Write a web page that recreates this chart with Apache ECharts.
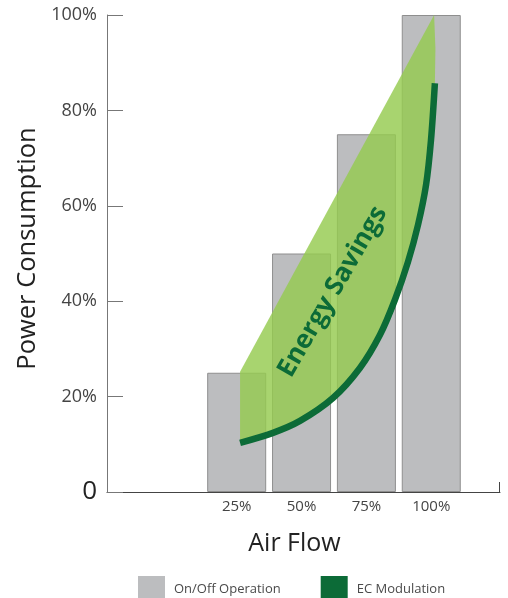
<!DOCTYPE html>
<html>
<head>
<meta charset="utf-8">
<script src="https://cdn.jsdelivr.net/npm/echarts@6/dist/echarts.min.js"></script>
<style>
  html, body { margin: 0; padding: 0; background: #ffffff; }
  #chart { width: 508px; height: 598px; }
</style>
</head>
<body>
<div id="chart"></div>
<script>
// Air flow steps (%) and the power drawn by on/off operation at each step
const flowSteps = [25, 50, 75, 100];
const onOffPower = [25, 50, 75, 100];

// EC fan modulation curve: air flow (%) vs power consumption (%)
const ecFlow  = [26.3, 39.0, 49.4, 62.1, 72.5, 80.2, 86.0, 91.0, 94.9, 98.0, 99.9, 101.4];
const ecPower = [10.3, 12.4, 14.9, 19.7, 26.0, 32.9, 40.3, 48.2, 56.0, 64.4, 73.8, 85.7];

// Savings band: straight upper edge, lower edge follows the EC curve
const savingsTop  = [[26.3, 25.2], [101.1, 100]];
const savingsTail = [[101.6, 93]];
const savingsLabel = { text: 'Energy Savings', at: [62.0, 42.0] };

const yTicks = [0, 20, 40, 60, 80, 100];
const X_MIN = -25, X_MAX = 126.5;

const FONT = '"Open Sans", "Noto Sans", sans-serif';
const chart = echarts.init(document.getElementById('chart'), null, { renderer: 'canvas' });

chart.setOption({
  animation: false,
  backgroundColor: '#ffffff',
  textStyle: { fontFamily: FONT },
  grid: { left: 107, right: 8, top: 15, bottom: 106, containLabel: false },
  legend: {
    data: [{ name: 'On/Off Operation' }, { name: 'EC Modulation' }],
    icon: 'rect',
    itemWidth: 27,
    itemHeight: 27,
    itemGap: 40,
    left: 138,
    top: 576,
    padding: 0,
    itemStyle: { borderWidth: 0 },
    textStyle: { fontSize: 13, color: '#4a4a4a', fontFamily: FONT, padding: [0, 0, 0, 4] }
  },
  xAxis: {
    type: 'value',
    min: X_MIN,
    max: X_MAX,
    interval: 25,
    name: 'Air Flow',
    nameLocation: 'middle',
    nameGap: 39,
    nameTextStyle: { fontSize: 25, color: '#222', fontFamily: FONT, padding: [0, 18, 0, 0] },
    axisLine: { show: true, onZero: false, lineStyle: { color: '#444', width: 1 } },
    axisTick: { show: false },
    splitLine: { show: false },
    axisLabel: {
      margin: 7,
      fontSize: 15,
      color: '#444',
      fontFamily: FONT,
      formatter: v => (flowSteps.indexOf(v) >= 0 ? v + '%' : '')
    }
  },
  yAxis: {
    type: 'value',
    min: 0,
    max: 100,
    interval: 20,
    name: 'Power Consumption',
    nameLocation: 'middle',
    nameRotate: 90,
    nameGap: 63,
    nameTextStyle: { fontSize: 25.5, color: '#222', fontFamily: FONT, padding: [0, 0, 0, 10] },
    axisLine: { show: true, onZero: false, lineStyle: { color: '#777', width: 1 } },
    axisTick: { show: true, inside: true, length: 16, lineStyle: { color: '#777', width: 1 } },
    splitLine: { show: false },
    axisLabel: {
      margin: 10,
      formatter: v => (yTicks.indexOf(v) < 0 ? '' : (v === 0 ? '{z|0}' : '{p|' + v + '%}')),
      rich: {
        z: { fontSize: 26, color: '#222', fontFamily: FONT },
        p: { fontSize: 18, color: '#444', fontFamily: FONT }
      }
    }
  },
  series: [
    {
      name: 'On/Off Operation',
      type: 'bar',
      barWidth: 59,
      data: flowSteps.map((f, i) => [f, onOffPower[i]]),
      itemStyle: { color: '#bcbdbf', borderColor: '#8e8e8e', borderWidth: 1 },
      z: 1
    },
    {
      name: 'Savings',
      type: 'custom',
      clip: false,
      z: 3,
      data: [savingsLabel.at],
      renderItem: function (params, api) {
        if (params.dataIndex !== 0) return null;
        const pts = [];
        savingsTop.forEach(p => pts.push(api.coord(p)));
        savingsTail.forEach(p => pts.push(api.coord(p)));
        for (let i = ecFlow.length - 1; i >= 0; i--) pts.push(api.coord([ecFlow[i], ecPower[i]]));
        const c = api.coord(savingsLabel.at);
        const end = api.coord([X_MAX, 0]);
        return {
          type: 'group',
          children: [
            { type: 'polygon', shape: { points: pts }, style: { fill: 'rgba(149,203,79,0.82)' } },
            {
              type: 'text', x: c[0], y: c[1], rotation: 60 * Math.PI / 180,
              style: {
                text: savingsLabel.text, fill: '#0c6b37', fontSize: 26, fontWeight: 'bold',
                fontFamily: FONT, align: 'center', verticalAlign: 'middle'
              }
            },
            {
              type: 'line',
              shape: { x1: end[0] - 0.5, y1: end[1], x2: end[0] - 0.5, y2: end[1] - 10 },
              style: { stroke: '#444', lineWidth: 1 }
            }
          ]
        };
      }
    },
    {
      name: 'EC Modulation',
      type: 'line',
      smooth: 0.3,
      symbol: 'none',
      showSymbol: false,
      data: ecFlow.map((f, i) => [f, ecPower[i]]),
      lineStyle: { width: 6.5, color: '#0c6b37', cap: 'butt' },
      itemStyle: { color: '#0c6b37' },
      z: 4
    }
  ]
});
</script>
</body>
</html>
